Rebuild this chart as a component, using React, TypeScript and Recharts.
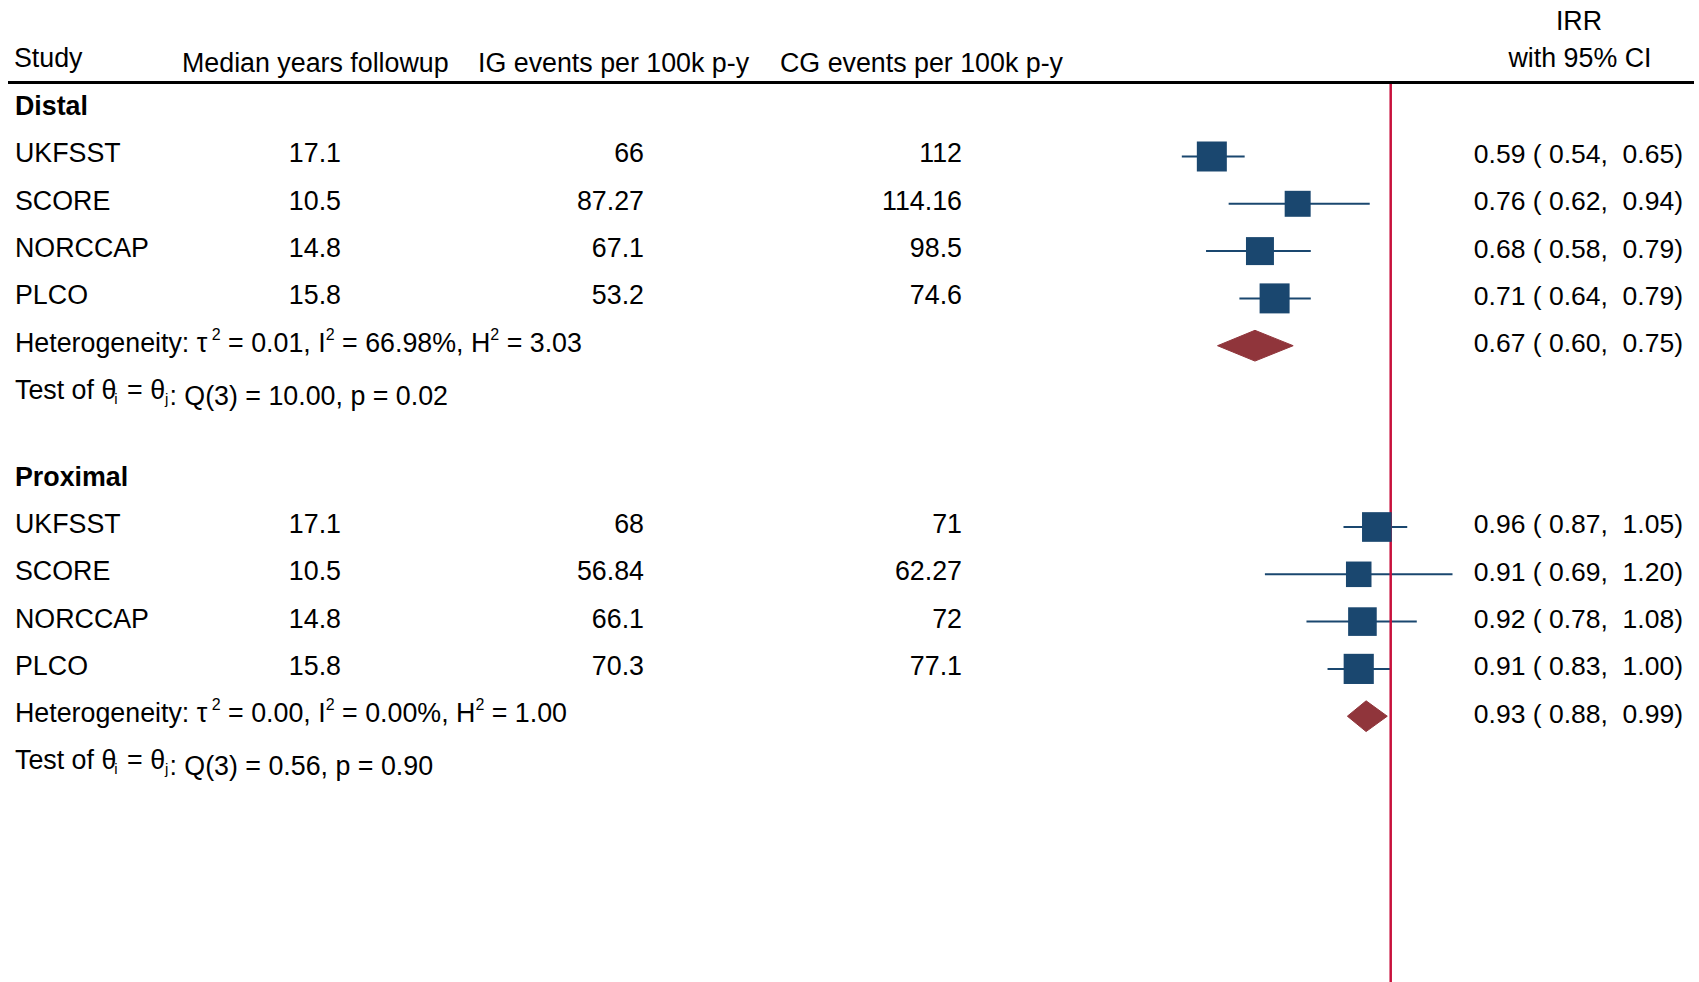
import React from 'react';
import { ScatterChart, Scatter, XAxis, YAxis, ErrorBar, ReferenceLine } from 'recharts';

// ---------- data ----------
const groupNames = ['Distal', 'Proximal'];
const studies = ['UKFSST', 'SCORE', 'NORCCAP', 'PLCO'];
const followupYears = [17.1, 10.5, 14.8, 15.8];

const distalIG = [66, 87.27, 67.1, 53.2];
const distalCG = [112, 114.16, 98.5, 74.6];
const distalIRR = [0.59, 0.76, 0.68, 0.71];
const distalLo = [0.54, 0.62, 0.58, 0.64];
const distalHi = [0.65, 0.94, 0.79, 0.79];
const distalWeight = [27.6, 20.7, 24.0, 27.6];
const distalPooled = [0.67, 0.6, 0.75];

const proximalIG = [68, 56.84, 66.1, 70.3];
const proximalCG = [71, 62.27, 72, 77.1];
const proximalIRR = [0.96, 0.91, 0.92, 0.91];
const proximalLo = [0.87, 0.69, 0.78, 0.83];
const proximalHi = [1.05, 1.2, 1.08, 1.0];
const proximalWeight = [27.0, 20.0, 25.1, 27.9];
const proximalPooled = [0.93, 0.88, 0.99];

const hetTau2 = ['0.01', '0.00'];
const hetI2 = ['66.98%', '0.00%'];
const hetH2 = ['3.03', '1.00'];
const testQ = ['10.00', '0.56'];
const testDf = [3, 3];
const testP = ['0.02', '0.90'];

const headerLabels = ['Study', 'Median years followup', 'IG events per 100k p-y', 'CG events per 100k p-y'];
const effectHeader = ['IRR', 'with 95% CI'];

// ---------- layout ----------
const W = 1699;
const H = 982;
const TOP = 82;
const ROW_PX = 47.3;
const groupStart = [0, 7.833];
const Y_MIN = -0.575;
const Y_MAX = Y_MIN + (H - TOP) / ROW_PX;
const X_AT_ONE = 1390.7;
const PX_PER_LN = 339;
const X_MIN = Math.exp(-X_AT_ONE / PX_PER_LN);
const X_MAX = Math.exp((W - X_AT_ONE) / PX_PER_LN);
const FONT = '"Liberation Sans", Arial, Helvetica, sans-serif';
const FS = 26.8;
const FS_IRR = 26.5;
const NAVY = '#1a476f';
const CRANBERRY = '#90353b';
const REDLINE = '#c8103c';
const DIAMOND_H = 0.325;
const SQUARE_K = 5.71;

const colName = 15;
const colFollow = 341;
const colIG = 644;
const colCG = 962;
const colIRR = 1683;

const fmt = (v: number) => v.toFixed(2);
const ciText = (e: number, l: number, h: number) => `${fmt(e)} ( ${fmt(l)},  ${fmt(h)})`;

const groups = [
  { ig: distalIG, cg: distalCG, irr: distalIRR, lo: distalLo, hi: distalHi, w: distalWeight, pooled: distalPooled },
  { ig: proximalIG, cg: proximalCG, irr: proximalIRR, lo: proximalLo, hi: proximalHi, w: proximalWeight, pooled: proximalPooled },
];

const textRows: any[] = [];
const studyPoints: any[] = [];
const diamonds: any[][] = [];
groups.forEach((g, gi) => {
  const base = groupStart[gi];
  textRows.push({ x: 1, y: base, kind: 'group', label: groupNames[gi] });
  studies.forEach((s, i) => {
    const y = base + 1 + i;
    textRows.push({
      x: 1, y, kind: 'study', label: s, follow: followupYears[i], ig: g.ig[i], cg: g.cg[i],
      irr: g.irr[i], lo: g.lo[i], hi: g.hi[i],
    });
    studyPoints.push({ x: g.irr[i], y, err: [g.irr[i] - g.lo[i], g.hi[i] - g.irr[i]], w: g.w[i] });
  });
  const py = base + 5;
  textRows.push({ x: 1, y: py, kind: 'pooled', gi, irr: g.pooled[0], lo: g.pooled[1], hi: g.pooled[2] });
  textRows.push({ x: 1, y: base + 6, kind: 'test', gi });
  diamonds.push([
    { x: g.pooled[1], y: py },
    { x: g.pooled[0], y: py - DIAMOND_H },
    { x: g.pooled[2], y: py },
    { x: g.pooled[0], y: py + DIAMOND_H },
  ]);
});

const T = (p: any) => (
  <text fontFamily={FONT} fontSize={FS} fill="#000" style={{ whiteSpace: 'pre' }} {...p} />
);

const TextRowShape = (props: any) => {
  const { cy, payload } = props;
  const b = cy + 6;
  if (payload.kind === 'group') {
    return <T x={colName} y={b} fontWeight="bold">{payload.label}</T>;
  }
  if (payload.kind === 'study') {
    return (
      <g>
        <T x={colName} y={b}>{payload.label}</T>
        <T x={colFollow} y={b} textAnchor="end">{String(payload.follow)}</T>
        <T x={colIG} y={b} textAnchor="end">{String(payload.ig)}</T>
        <T x={colCG} y={b} textAnchor="end">{String(payload.cg)}</T>
        <T x={colIRR} y={b + 0.5} textAnchor="end" fontSize={FS_IRR}>{ciText(payload.irr, payload.lo, payload.hi)}</T>
      </g>
    );
  }
  if (payload.kind === 'pooled') {
    const gi = payload.gi;
    return (
      <g>
        <T x={colName} y={b}>
          {'Heterogeneity: \u03c4'}
          <tspan dy={-12} fontSize={16}>{' 2'}</tspan>
          <tspan dy={12}>{` = ${hetTau2[gi]}, I`}</tspan>
          <tspan dy={-12} fontSize={16}>2</tspan>
          <tspan dy={12}>{` = ${hetI2[gi]}, H`}</tspan>
          <tspan dy={-12} fontSize={16}>2</tspan>
          <tspan dy={12}>{` = ${hetH2[gi]}`}</tspan>
        </T>
        <T x={colIRR} y={b + 0.5} textAnchor="end" fontSize={FS_IRR}>{ciText(payload.irr, payload.lo, payload.hi)}</T>
      </g>
    );
  }
  if (payload.kind === 'test') {
    const gi = payload.gi;
    return (
      <T x={colName} y={b}>
        {'Test of \u03b8'}
        <tspan dy={5} dx={-2} fontSize={15}>i</tspan>
        <tspan dy={-5} dx={2}>{' = \u03b8'}</tspan>
        <tspan dy={5} fontSize={15}>j</tspan>
        <tspan dy={1} dx={1}>{`: Q(${testDf[gi]}) = ${testQ[gi]}, p = ${testP[gi]}`}</tspan>
      </T>
    );
  }
  return <g />;
};

const SquareShape = (props: any) => {
  const { cx, cy, payload } = props;
  const s = Math.sqrt(payload.w) * SQUARE_K;
  return <rect x={cx - s / 2} y={cy - s / 2} width={s} height={s} fill={NAVY} />;
};

const DiamondLine = (p: any) => (
  <polygon
    points={(p.points || []).map((pt: any) => `${pt.x},${pt.y}`).join(' ')}
    fill={CRANBERRY}
    stroke={CRANBERRY}
    strokeWidth={1}
    strokeLinejoin="round"
  />
);

const Header = () => (
  <svg
    width={W}
    height={H}
    style={{ position: 'absolute', left: 0, top: 0, pointerEvents: 'none' }}
  >
    <T x={14} y={66.5}>{headerLabels[0]}</T>
    <T x={182} y={71.5}>{headerLabels[1]}</T>
    <T x={478} y={71.5}>{headerLabels[2]}</T>
    <T x={780} y={71.5}>{headerLabels[3]}</T>
    <T x={1579} y={30} textAnchor="middle">{effectHeader[0]}</T>
    <T x={1580} y={66.5} textAnchor="middle">{effectHeader[1]}</T>
    <line x1={8} x2={1694} y1={82.5} y2={82.5} stroke="#000" strokeWidth={3} />
  </svg>
);

export default function App() {
  return (
    <div style={{ position: 'absolute', left: 0, top: 0, width: W, height: H, background: '#fff' }}>
      <ScatterChart
        width={W}
        height={H}
        margin={{ top: TOP, right: 0, bottom: 0, left: 0 }}
        style={{ fontFamily: FONT }}
      >
        <XAxis
          type="number"
          dataKey="x"
          scale="log"
          domain={[X_MIN, X_MAX]}
          allowDataOverflow
          hide
          height={0}
        />
        <YAxis
          type="number"
          dataKey="y"
          domain={[Y_MIN, Y_MAX]}
          reversed
          allowDataOverflow
          hide
          width={0}
        />
        <Scatter data={textRows} shape={TextRowShape} isAnimationActive={false} />
        <Scatter data={studyPoints} shape={SquareShape} isAnimationActive={false}>
          <ErrorBar dataKey="err" direction="x" width={0} stroke={NAVY} strokeWidth={2} />
        </Scatter>
        {diamonds.map((d, i) => (
          <Scatter
            key={i}
            data={d}
            shape={() => <g />}
            line={DiamondLine}
            lineType="joint"
            isAnimationActive={false}
          />
        ))}
        <ReferenceLine x={1} stroke={REDLINE} strokeWidth={2.5} />
      </ScatterChart>
      <Header />
    </div>
  );
}
